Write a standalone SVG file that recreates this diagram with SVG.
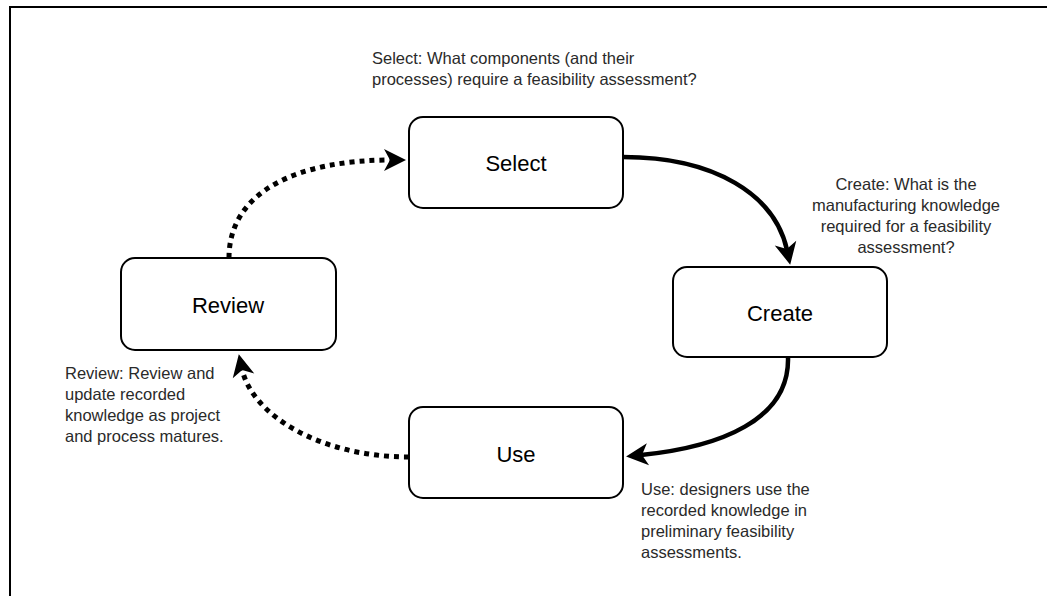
<svg xmlns="http://www.w3.org/2000/svg" width="1047" height="596" viewBox="0 0 1047 596">
  <style>
    .frame { fill: none; stroke: #000; stroke-width: 2; }
    .box { fill: #fff; stroke: #000; stroke-width: 2; }
    .label { font-family: "Liberation Sans", Arial, sans-serif; font-size: 22px; fill: #000; text-anchor: middle; }
    .note { font-family: "Liberation Sans", Arial, sans-serif; font-size: 16.5px; fill: #2a2a2a; }
    .solid { fill: none; stroke: #000; stroke-width: 4.5; }
    .dotted { fill: none; stroke: #000; stroke-width: 5; stroke-dasharray: 5 5; }
  </style>
  <defs>
    <!-- barbed arrowhead; path end sits at the notch, tip projects forward -->
    <marker id="arrow" markerUnits="userSpaceOnUse" markerWidth="30" markerHeight="30" viewBox="-10 -15 30 30" refX="0" refY="0" orient="auto" overflow="visible">
      <path d="M15,0 L-7,-11 L-1,0 L-7,11 Z" fill="#000" stroke="none"/>
    </marker>
  </defs>

  <rect width="1047" height="596" fill="#fff"/>

  <!-- outer frame (top and left edges) -->
  <path class="frame" d="M10,596 L10,7 L1047,7"/>

  <g id="connectors">
    <path class="solid" d="M623,157 C715,157 775,195 787,250" marker-end="url(#arrow)"/>
    <path class="solid" d="M788,357 C790,420 720,447 641,455" marker-end="url(#arrow)"/>
    <path class="dotted" d="M409,457 C320,457 252,415 242,369" marker-end="url(#arrow)"/>
    <path class="dotted" d="M229,258 C229,190 300,160 391,160" marker-end="url(#arrow)"/>
  </g>

  <g id="node-select">
    <rect class="box" x="409" y="117" width="214" height="91" rx="14"/>
    <text class="label" x="516" y="171">Select</text>
  </g>

  <g id="node-create">
    <rect class="box" x="673" y="267" width="214" height="90" rx="14"/>
    <text class="label" x="780" y="321">Create</text>
  </g>

  <g id="node-use">
    <rect class="box" x="409" y="407" width="214" height="91" rx="14"/>
    <text class="label" x="516" y="462">Use</text>
  </g>

  <g id="node-review">
    <rect class="box" x="121" y="258" width="215" height="92" rx="14"/>
    <text class="label" x="228" y="313">Review</text>
  </g>

  <g id="notes">
    <text class="note" x="372" y="64">Select: What components (and their</text>
    <text class="note" x="372" y="85">processes) require a feasibility assessment?</text>

    <g text-anchor="middle">
      <text class="note" x="906" y="190">Create: What is the</text>
      <text class="note" x="906" y="211">manufacturing knowledge</text>
      <text class="note" x="906" y="232">required for a feasibility</text>
      <text class="note" x="906" y="253">assessment?</text>
    </g>

    <text class="note" x="65" y="379">Review: Review and</text>
    <text class="note" x="65" y="400">update recorded</text>
    <text class="note" x="65" y="421">knowledge as project</text>
    <text class="note" x="65" y="442">and process matures.</text>

    <text class="note" x="641" y="495">Use: designers use the</text>
    <text class="note" x="641" y="516">recorded knowledge in</text>
    <text class="note" x="641" y="537">preliminary feasibility</text>
    <text class="note" x="641" y="558">assessments.</text>
  </g>
</svg>
